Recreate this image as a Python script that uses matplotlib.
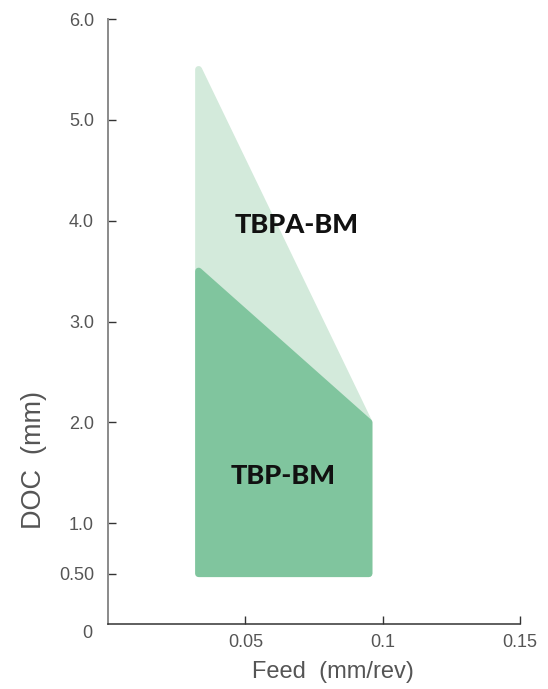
import matplotlib
matplotlib.use("Agg")
import matplotlib.pyplot as plt
from matplotlib.patches import Polygon

# Operating windows: feed (mm/rev) vs depth of cut (mm)
tbpa_feed = [0.033, 0.095, 0.095, 0.033]
tbpa_doc = [5.5, 2.0, 0.5, 0.5]
tbp_feed = [0.033, 0.095, 0.095, 0.033]
tbp_doc = [3.5, 2.0, 0.5, 0.5]

series_names = ["TBPA-BM", "TBP-BM"]
label_pos = [(0.0685, 3.96), (0.0638, 1.47)]

y_ticks = [0.5, 1.0, 2.0, 3.0, 4.0, 5.0, 6.0]
y_tick_labels = ["0.50", "1.0", "2.0", "3.0", "4.0", "5.0", "6.0"]
x_ticks = [0.05, 0.1, 0.15]
x_tick_labels = ["0.05", "0.1", "0.15"]

plt.rcParams["font.family"] = ["Liberation Sans", "DejaVu Sans"]

fig = plt.figure(figsize=(5.48, 6.89), dpi=100)
ax = fig.add_axes([0.197, 0.0943, 0.752, 0.878])

light = "#d3eadb"
dark = "#80c59e"
for xs, ys, c in [(tbpa_feed, tbpa_doc, light), (tbp_feed, tbp_doc, dark)]:
    poly = Polygon(list(zip(xs, ys)), closed=True, facecolor=c, edgecolor=c,
                   linewidth=5, joinstyle="round")
    ax.add_patch(poly)

for name, (x, y) in zip(series_names, label_pos):
    ax.text(x, y, name, ha="center", va="center", fontsize=19.5,
            fontweight="black", family=["Lato", "DejaVu Sans"], color="#111111")

ax.set_xlim(0, 0.15)
ax.set_ylim(0, 6.0)
ax.set_xticks(x_ticks)
ax.set_xticklabels(x_tick_labels)
ax.set_yticks(y_ticks)
ax.set_yticklabels(y_tick_labels)

for s in ["top", "right"]:
    ax.spines[s].set_visible(False)
ax.spines["left"].set_color("#8a8a8a")
ax.spines["left"].set_linewidth(1.4)
ax.spines["bottom"].set_color("#333333")
ax.spines["bottom"].set_linewidth(1.1)

ax.tick_params(axis="y", direction="in", length=6, width=1.0, color="#333333",
               labelsize=13, labelcolor="#555555", pad=10)
ax.tick_params(axis="x", direction="in", length=6, width=1.0, color="#333333",
               labelsize=13, labelcolor="#555555", pad=7)

ax.annotate("0", xy=(0, 0), xytext=(-11.5, -6.5), textcoords="offset points",
            ha="right", va="center", fontsize=13, color="#555555",
            annotation_clip=False)

ax.set_ylabel("DOC  (mm)", fontsize=19.5, color="#555555")
ax.set_xlabel("Feed  (mm/rev)", fontsize=17, color="#555555")
ax.yaxis.set_label_coords(-0.148, 0.271)
ax.xaxis.set_label_coords(0.546, -0.061)

fig.savefig("out.png", dpi=100)
